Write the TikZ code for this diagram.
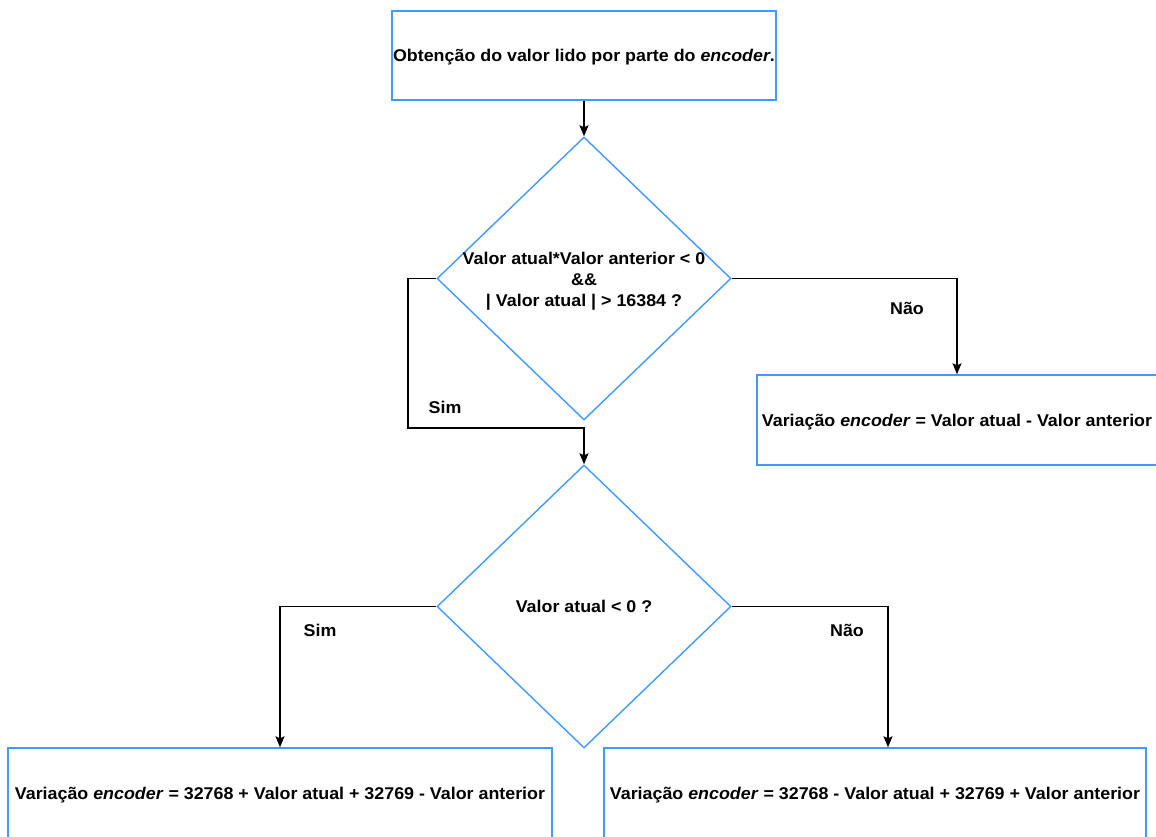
\documentclass[tikz,border=0pt]{standalone}
\usepackage{fontspec}
\setmainfont[FakeStretch=1.05]{Liberation Sans}
\usetikzlibrary{shapes.geometric,arrows.meta}
\definecolor{edgeblue}{RGB}{66,153,255}
\begin{document}
\begin{tikzpicture}[x=1pt,y=-1pt,
  txt/.style={font=\fontsize{17}{21}\selectfont\bfseries},
  box/.style={draw=edgeblue,line width=1.4pt,rectangle,inner sep=0pt,
              minimum height=90pt,text depth=0pt,txt},
  decision/.style={draw=edgeblue,line width=1.4pt,diamond,inner sep=0pt,
              minimum width=294pt,minimum height=283pt},
  flow/.style={draw=black,line width=1.3pt,-{Stealth[length=11pt,width=9pt,inset=2pt]}},
  lbl/.style={txt,inner sep=0pt}]
\useasboundingbox[fill=white] (0,0) rectangle (1156,836);

% process boxes
\node[box,minimum width=384pt,minimum height=89pt] (start) at (584,55.5)
  {Obtenção do valor lido por parte do \textit{encoder}.};
\node[box,minimum width=400pt] (simple) at (957,420)
  {Variação \textit{encoder} = Valor atual - Valor anterior};
\node[box,minimum width=544pt] (neg) at (280,793)
  {Variação \textit{encoder} = 32768 + Valor atual + 32769 - Valor anterior};
\node[box,minimum width=542pt] (pos) at (875,793)
  {Variação \textit{encoder} = 32768 - Valor atual + 32769 + Valor anterior};

% decisions
\node[decision] (d1) at (584,278.5) {};
\node[lbl,align=center,yshift=-3pt] (d1text) at (d1.center)
  {Valor atual*Valor anterior < 0\\ \&\&\\ | Valor atual | > 16384 ?};
\node[decision] (d2) at (584,606.5) {};
\node[lbl,text depth=0pt] (d2text) at (d2.center) {Valor atual < 0 ?};

% connectors
\coordinate (bend) at (408,428);
\draw[flow] (start.south) -- (d1.north);
\draw[flow] (d1.west) -| (bend) -- (bend -| d2.north) -- (d2.north);
\draw[flow] (d1.east) -| (simple.north);
\draw[flow] (d2.west) -| (neg.north);
\draw[flow] (d2.east) -| ([xshift=13pt]pos.north);

% branch labels
\node[lbl] (sim1) at (445,407) {Sim};
\node[lbl] (nao1) at (907,308) {Não};
\node[lbl] (sim2) at (320,630) {Sim};
\node[lbl] (nao2) at (847,630) {Não};
\end{tikzpicture}
\end{document}
